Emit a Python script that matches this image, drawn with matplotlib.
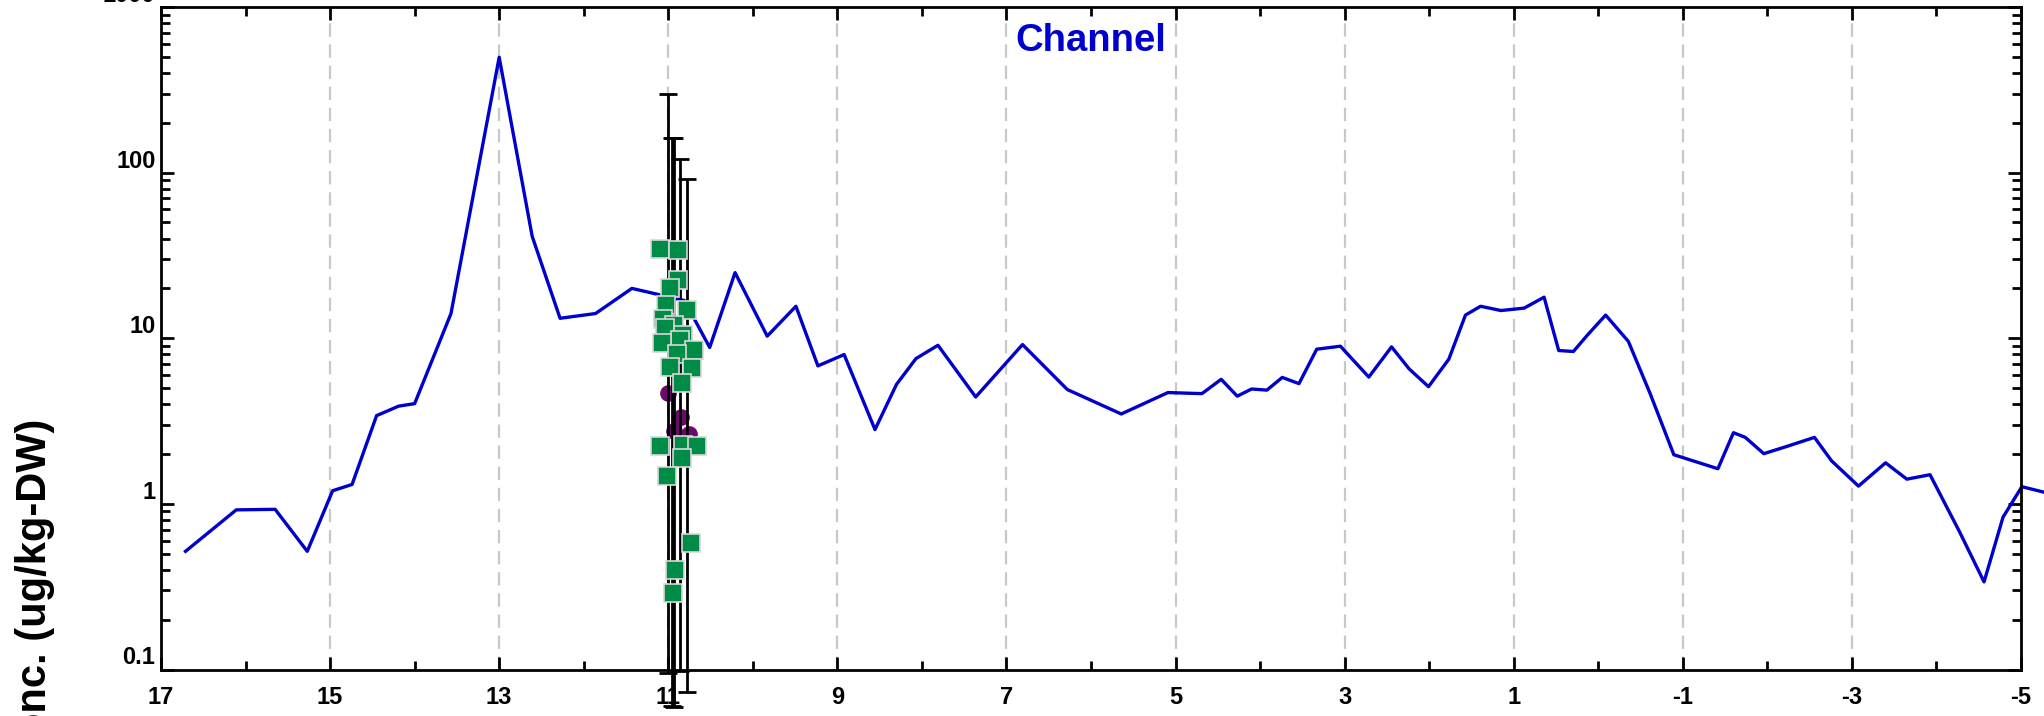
"""Channel concentration profile on a log axis, with the sample cluster near 11."""

import matplotlib
matplotlib.use("Agg")
import matplotlib.pyplot as plt
from matplotlib.ticker import FixedLocator, LogLocator, NullFormatter

# blue model line
line_x = [16.71, 16.11, 15.65, 15.27, 14.97, 14.74, 14.45, 14.19, 14.00, 13.57,
          13.00, 12.61, 12.28, 11.86, 11.43, 10.81, 10.51, 10.21, 9.83, 9.49,
          9.23, 8.92, 8.555, 8.30, 8.07, 7.81, 7.364, 6.81, 6.28, 5.642,
          5.09, 4.688, 4.46, 4.27, 4.10, 3.92, 3.738, 3.54, 3.33, 3.05,
          2.714, 2.445, 2.238, 2.008, 1.768, 1.571, 1.392, 1.151, 0.877, 0.641,
          0.468, 0.294, 0.132, -0.087, -0.356, -0.613, -0.894, -1.415, -1.599, -1.739,
          -1.958, -2.227, -2.557, -2.759, -3.078, -3.398, -3.650, -3.924, -4.272, -4.563,
          -4.787, -5.01, -5.35]
line_y = [0.517, 0.92, 0.927, 0.517, 1.20, 1.31, 3.41, 3.89, 4.03, 14.1,
          497, 41.3, 13.2, 14.1, 20.0, 16.9, 8.8, 24.9, 10.3, 15.6,
          6.81, 7.97, 2.81, 5.27, 7.54, 9.07, 4.42, 9.16, 4.90, 3.49,
          4.70, 4.63, 5.65, 4.47, 4.94, 4.86, 5.80, 5.32, 8.59, 8.95,
          5.83, 8.87, 6.54, 5.10, 7.47, 13.8, 15.6, 14.7, 15.2, 17.7,
          8.43, 8.32, 10.4, 13.8, 9.57, 4.64, 1.98, 1.63, 2.69, 2.52,
          2.01, 2.22, 2.52, 1.82, 1.28, 1.77, 1.41, 1.50, 0.68, 0.338,
          0.83, 1.27, 1.15]

# green squares
sq_x = [11.10, 10.88, 10.88, 10.98, 11.03, 10.78, 11.06, 10.93, 11.04, 10.82,
        10.86, 11.08, 10.70, 10.90, 10.98, 10.72, 10.84, 11.10, 10.82, 10.66,
        10.84, 11.02, 10.73, 10.92, 10.95]
sq_y = [34.8, 34.0, 22.4, 20.0, 15.8, 14.8, 13.0, 12.0, 11.5, 10.4,
        9.8, 9.3, 8.5, 8.0, 6.7, 6.6, 5.4, 2.25, 2.28, 2.25,
        1.88, 1.48, 0.58, 0.40, 0.29]

# purple circles
ci_x = [11.00, 10.85, 10.76, 10.93]
ci_y = [4.64, 3.34, 2.65, 2.75]

# error bars (low / high ends)
err_x = [11.00, 10.96, 10.93, 10.86, 10.78]
err_lo = [0.095, 0.060, 0.059, 0.098, 0.0735]
err_hi = [297, 161, 161, 121, 91]

XMAJOR = list(range(17, -6, -2))
XMINOR = list(range(16, -5, -2))

FONT = "Liberation Sans"

fig = plt.figure(figsize=(20.44, 7.16), dpi=100)
ax = fig.add_axes([161 / 2044, 1 - 669.5 / 716, 1860 / 2044, 662.5 / 716])

ax.set_yscale("log")
ax.set_xlim(17, -5)
ax.set_ylim(0.1, 1000)

for gx in XMAJOR[1:-1]:
    ax.axvline(gx, color="#c8c8c8", lw=1.6, linestyle=(0, (6, 3.5)), zorder=0)

ax.plot(line_x, line_y, color="#0000cc", lw=2.4, clip_on=False, zorder=2)

ax.plot(ci_x, ci_y, "o", color="#6a0a6a", markersize=11, mec="#6a0a6a",
        clip_on=False, zorder=3)

for x, lo, hi in zip(err_x, err_lo, err_hi):
    ax.errorbar([x], [hi], yerr=[[hi - lo], [0]], fmt="none", ecolor="black",
                elinewidth=2, capsize=6.5, capthick=2, clip_on=False, zorder=4)

ax.plot(sq_x, sq_y, "s", color="#008c46", markersize=13.5, mec="#d8d8d8", mew=1.2,
        clip_on=False, zorder=5)

ax.text(0.5, 0.934, "Channel", transform=ax.transAxes, ha="center", va="baseline",
        fontsize=27.5, fontweight="bold", color="#0000cc", family=FONT)

# ticks
ax.xaxis.set_major_locator(FixedLocator(XMAJOR))
ax.xaxis.set_minor_locator(FixedLocator(XMINOR))
ax.set_xticklabels([str(v) for v in XMAJOR])
ax.yaxis.set_minor_locator(LogLocator(base=10, subs=range(2, 10), numticks=20))
ax.yaxis.set_minor_formatter(NullFormatter())
ax.set_yticks([0.1, 1, 10, 100, 1000])
ax.set_yticklabels(["0.1", "1", "10", "100", "1000"])

ax.tick_params(which="both", direction="in", top=True, right=True, width=2,
               colors="black")
ax.tick_params(which="major", length=9.5)
ax.tick_params(which="minor", length=6.5)
ax.tick_params(axis="x", which="major", pad=12)
ax.tick_params(axis="y", which="major", pad=4)

for lab in ax.get_xticklabels() + ax.get_yticklabels():
    lab.set_fontfamily(FONT)
    lab.set_fontweight("bold")
    lab.set_fontsize(17)
for lab in ax.get_yticklabels():
    lab.set_va("bottom")

for sp in ax.spines.values():
    sp.set_linewidth(2)

fig.text(35 / 2044, 1 - 419 / 716, "Conc. (ug/kg-DW)", rotation=90, ha="center",
         va="top", fontsize=30, fontweight="bold", family=FONT)

fig.savefig("out.png", dpi=100)
